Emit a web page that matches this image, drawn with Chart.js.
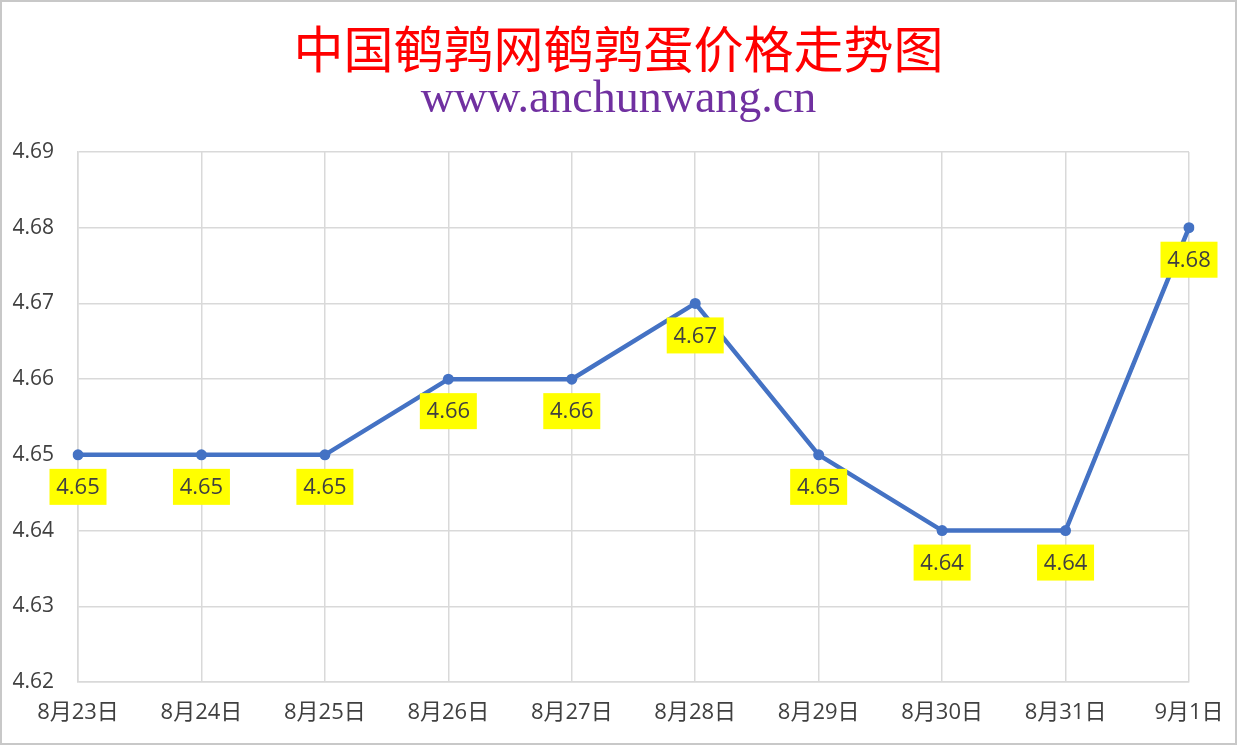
<!DOCTYPE html>
<html>
<head>
<meta charset="utf-8">
<script src="https://cdn.jsdelivr.net/npm/chart.js@4"></script>
<style>
    html, body { margin: 0; padding: 0; background: #fff; }
    #wrap {
        width: 1237px; height: 745px; box-sizing: border-box;
        border: 2px solid #c8c8c8; background: #fff;
    }
    canvas { display: block; }
</style>
</head>
<body>
<div id="wrap"><canvas id="chart" width="1233" height="741"></canvas></div>
<script>
// 数据
const dates = ['8月23日', '8月24日', '8月25日', '8月26日', '8月27日', '8月28日', '8月29日', '8月30日', '8月31日', '9月1日'];
const prices = [4.65, 4.65, 4.65, 4.66, 4.66, 4.67, 4.65, 4.64, 4.64, 4.68];
const yMin = 4.62;
const yMax = 4.69;
const yStep = 0.01;

const mainTitle = '中国鹌鹑网鹌鹑蛋价格走势图';
const subTitle = 'www.anchunwang.cn';

const C = {
    line: '#4472C4',
    grid: '#d9d9d9',
    text: '#404040',
    title: '#FF0000',
    sub: '#7030A0',
    label: '#FFFF00'
};
const SANS = '"Open Sans", "Noto Sans CJK SC", sans-serif';

// 标题
const titlePlugin = {
    id: 'titles',
    afterDraw(chart) {
        const ctx = chart.ctx;
        const cx = chart.width / 2;
        ctx.save();
        ctx.textAlign = 'center';
        ctx.textBaseline = 'middle';
        ctx.fillStyle = C.title;
        ctx.font = '50px "Noto Sans CJK SC", serif';
        ctx.fillText(mainTitle, cx, 47);
        ctx.fillStyle = C.sub;
        ctx.font = '46px "Liberation Serif", "Times New Roman", serif';
        ctx.fillText(subTitle, cx, 98);
        ctx.restore();
    }
};

// 数据标签 (黄色底)
const labelPlugin = {
    id: 'valueLabels',
    afterDatasetsDraw(chart) {
        const ctx = chart.ctx;
        const meta = chart.getDatasetMeta(0);
        ctx.save();
        ctx.font = '22px ' + SANS;
        ctx.textAlign = 'center';
        ctx.textBaseline = 'middle';
        meta.data.forEach((pt, i) => {
            const txt = prices[i].toFixed(2);
            const w = 57, h = 36;
            const x = pt.x, y = pt.y + 14;
            ctx.fillStyle = C.label;
            ctx.fillRect(x - w / 2, y, w, h);
            ctx.fillStyle = C.text;
            ctx.fillText(txt, x, y + h / 2 + 1);
        });
        ctx.restore();
    }
};

new Chart(document.getElementById('chart'), {
    type: 'line',
    data: {
        labels: dates,
        datasets: [{
            data: prices,
            borderColor: C.line,
            backgroundColor: C.line,
            borderWidth: 4.5,
            pointRadius: 5.5,
            pointBackgroundColor: C.line,
            pointBorderWidth: 0,
            tension: 0
        }]
    },
    options: {
        responsive: false,
        animation: false,
        layout: {padding: {top: 150, right: 46, left: 0, bottom: 0}},
        plugins: {
            legend: {display: false},
            tooltip: {enabled: false}
        },
        scales: {
            x: {
                offset: false,
                grid: {color: C.grid, lineWidth: 1.5, drawTicks: false},
                border: {color: C.grid, width: 1.5},
                ticks: {
                    color: C.text,
                    font: {family: SANS, size: 22},
                    padding: 18,
                    maxRotation: 0,
                    autoSkip: false
                },
                afterFit: s => { s.height = 61; s.paddingLeft = 0; s.paddingRight = 0; }
            },
            y: {
                min: yMin,
                max: yMax,
                grid: {color: C.grid, lineWidth: 1.5, drawTicks: false},
                border: {color: C.grid, width: 1.5},
                ticks: {
                    stepSize: yStep,
                    color: C.text,
                    font: {family: SANS, size: 21},
                    padding: 24,
                    callback: v => v.toFixed(2)
                },
                afterFit: s => { s.width = 76; s.paddingTop = 0; s.paddingBottom = 0; }
            }
        }
    },
    plugins: [titlePlugin, labelPlugin]
});
</script>
</body>
</html>
